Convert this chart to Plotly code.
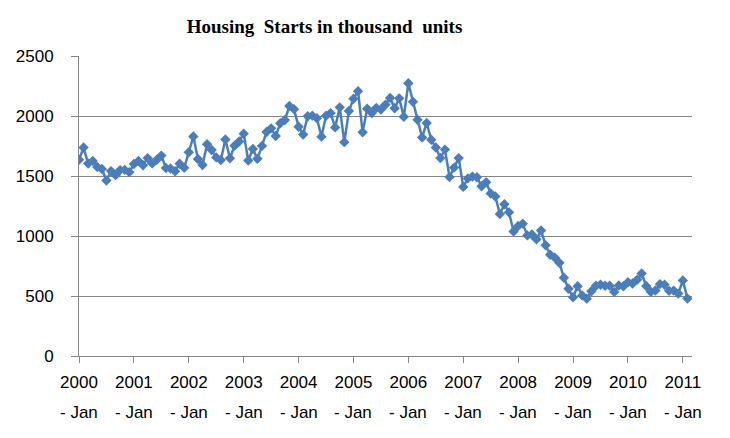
import plotly.graph_objects as go

years = list(range(2000, 2012))
months = ["Jan", "Feb", "Mar", "Apr", "May", "Jun", "Jul", "Aug", "Sep", "Oct", "Nov", "Dec"]

starts_2000 = [1636, 1737, 1604, 1626, 1575, 1559, 1463, 1541, 1507, 1549, 1551, 1532]
starts_2001 = [1600, 1625, 1590, 1649, 1605, 1636, 1670, 1567, 1562, 1540, 1602, 1568]
starts_2002 = [1698, 1829, 1642, 1592, 1764, 1717, 1655, 1633, 1804, 1648, 1753, 1788]
starts_2003 = [1853, 1629, 1726, 1643, 1751, 1867, 1897, 1833, 1939, 1967, 2083, 2057]
starts_2004 = [1911, 1846, 1998, 2003, 1981, 1828, 2002, 2024, 1905, 2072, 1782, 2042]
starts_2005 = [2144, 2207, 1864, 2061, 2025, 2068, 2054, 2095, 2151, 2065, 2147, 1994]
starts_2006 = [2273, 2119, 1969, 1821, 1942, 1802, 1737, 1650, 1720, 1491, 1570, 1649]
starts_2007 = [1409, 1480, 1495, 1490, 1415, 1448, 1354, 1330, 1183, 1264, 1197, 1037]
starts_2008 = [1084, 1103, 1005, 1013, 973, 1046, 923, 844, 820, 777, 652, 560]
starts_2009 = [490, 582, 505, 478, 540, 585, 594, 586, 585, 534, 588, 581]
starts_2010 = [614, 604, 636, 687, 583, 536, 546, 599, 594, 543, 545, 520]
starts_2011 = [630, 479]

all_years = [starts_2000, starts_2001, starts_2002, starts_2003, starts_2004, starts_2005,
             starts_2006, starts_2007, starts_2008, starts_2009, starts_2010, starts_2011]

values = [v for yr in all_years for v in yr]
labels = [f"{y} - {m}" for y, yr in zip(years, all_years) for m, _ in zip(months, yr)]
x_idx = list(range(len(values)))

tick_vals = [12 * i for i in range(len(years))]
tick_year = [str(y) for y in years]

fig = go.Figure()
fig.add_trace(go.Scatter(
    x=x_idx, y=values, text=labels, mode="lines+markers",
    line=dict(color="#4A7EBB", width=2.5),
    marker=dict(symbol="diamond", size=8, color="#4A7EBB"),
    hovertemplate="%{text}: %{y}<extra></extra>",
))

for tv in tick_vals:
    fig.add_annotation(x=tv, y=-0.187, xref="x", yref="paper", text="- Jan",
                       showarrow=False, yanchor="middle",
                       font=dict(family="Liberation Sans", size=17, color="#000000"))

fig.update_layout(
    width=730, height=438,
    margin=dict(l=79, r=38, t=56, b=82),
    paper_bgcolor="white", plot_bgcolor="white",
    showlegend=False,
    title=dict(text="Housing  Starts in thousand  units", x=0.4445, xanchor="center",
               y=1 - 26 / 438, yanchor="middle",
               font=dict(family="Liberation Serif", size=19, color="#000000", weight="bold")),
    xaxis=dict(range=[0, 134], tickmode="array", tickvals=tick_vals, ticktext=tick_year,
               showgrid=False, zeroline=False, showline=True, linecolor="#868686", linewidth=1,
               ticks="outside", ticklen=6, tickcolor="#868686", ticklabelstandoff=5,
               tickfont=dict(family="Liberation Sans", size=17, color="#000000")),
    yaxis=dict(range=[0, 2500], tickvals=[0, 500, 1000, 1500, 2000, 2500],
               showgrid=True, gridcolor="#868686", gridwidth=1, zeroline=False,
               showline=True, linecolor="#868686", linewidth=1,
               ticks="outside", ticklen=7, tickcolor="#868686", ticklabelstandoff=14,
               tickfont=dict(family="Liberation Sans", size=17, color="#000000")),
)

fig.write_html("out.html")
